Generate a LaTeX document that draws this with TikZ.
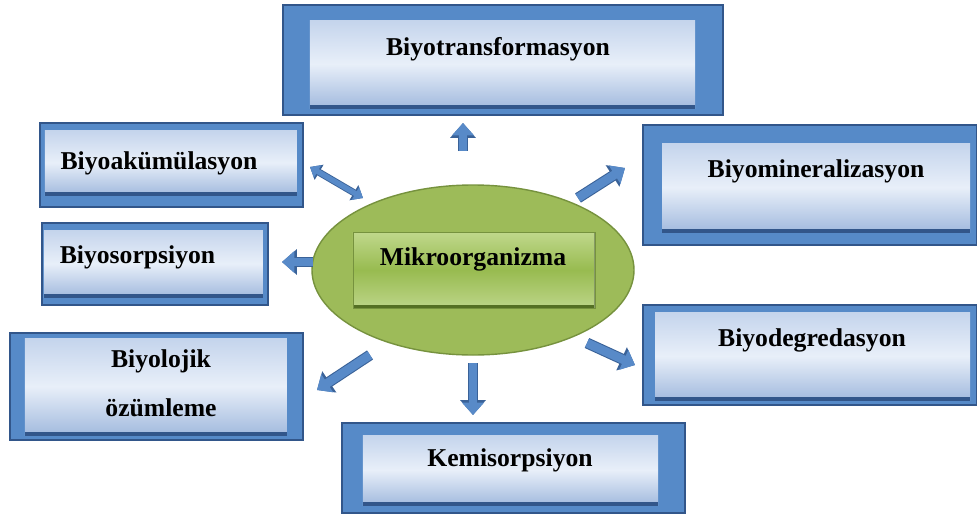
\documentclass[tikz,border=0pt]{standalone}
\usepackage{fontspec}
\setmainfont{Liberation Serif}
\usetikzlibrary{arrows.meta,shapes.geometric}
\definecolor{frameBlue}{RGB}{86,138,200}
\definecolor{frameDark}{RGB}{50,86,138}
\definecolor{panelTop}{RGB}{196,212,236}
\definecolor{panelMid}{RGB}{232,239,249}
\definecolor{panelBot}{RGB}{162,186,222}
\definecolor{arrowBlue}{RGB}{88,138,200}
\definecolor{arrowEdge}{RGB}{58,98,152}
\definecolor{leafGreen}{RGB}{157,187,89}
\definecolor{leafEdge}{RGB}{118,146,62}
\definecolor{greenTop}{RGB}{192,216,140}
\definecolor{greenMid}{RGB}{152,187,80}
\definecolor{greenBot}{RGB}{188,213,136}
\definecolor{greenDark}{RGB}{84,112,36}
\tikzset{%
  >={Triangle[width=12pt,length=7pt]},
  % Specifications for style of boxes and arrows:
     frameBox/.style = {rectangle, draw=frameDark, line width=0.6pt,
                        fill=frameBlue, inner sep=0pt},
        panel/.style = {rectangle, inner sep=0pt, top color=panelTop,
                        bottom color=panelBot, middle color=panelMid,
                        path picture={\draw[frameDark, line width=3pt]
                          (path picture bounding box.south west) --
                          (path picture bounding box.south east);}},
     greenBox/.style = {rectangle, inner sep=0pt, draw=leafEdge,
                        top color=greenTop, bottom color=greenBot,
                        middle color=greenMid,
                        path picture={\draw[greenDark, line width=3pt]
                          (path picture bounding box.south west) --
                          (path picture bounding box.south east);
                          \draw[greenDark!70, line width=1.6pt]
                          (path picture bounding box.south east) --
                          (path picture bounding box.north east);}},
      boxText/.style = {font=\bfseries\fontsize{14.6}{27.9}\selectfont,
                        inner sep=0pt, align=center},
   blockArrow/.style = {line width=5pt, draw=arrowBlue, ->,
                        preaction={draw=arrowEdge, line width=6.2pt,
                          -{Triangle[width=14pt,length=8.4pt]}}},
  thinArrow/.style = {line width=3pt, draw=arrowBlue,
                        {Triangle[width=8pt,length=5pt]}-{Triangle[width=8pt,length=5pt]},
                        preaction={draw=arrowEdge, line width=4pt,
                          {Triangle[width=9.6pt,length=6pt]}-{Triangle[width=9.6pt,length=6pt]}}},
}
\begin{document}
\begin{tikzpicture}
  \useasboundingbox (-9.46,-4.90) rectangle (10.08,5.40);
  % Center: ellipse with the green box
    \node (mikro)    [ellipse, fill=leafGreen, draw=leafEdge, line width=0.8pt,
                      minimum width=6.44cm, minimum height=3.4cm, inner sep=0pt] at (0,0) {};
    \node (mikroBox) [greenBox, minimum width=4.84cm, minimum height=1.52cm] at (0.02,0) {};
    \node (mikroTxt) [boxText] at (0,0.21) {Mikroorganizma};
  % Boxes round the center
    \node (bioTrans)    [frameBox, minimum width=8.8cm, minimum height=2.2cm] at (0.60,4.20) {};
    \node (bioTransIn)  [panel, minimum width=7.7cm, minimum height=1.76cm] at (0.59,4.12) {};
    \node (bioTransTxt) [boxText] at (0.50,4.42) {Biyotransformasyon};
    \node (bioAcc)      [frameBox, minimum width=5.26cm, minimum height=1.68cm] at (-6.03,2.10) {};
    \node (bioAccIn)    [panel, minimum width=5.04cm, minimum height=1.30cm] at (-6.04,2.15) {};
    \node (bioAccTxt)   [boxText] at (-6.28,2.13) {Biyoakümülasyon};
    \node (bioSorp)     [frameBox, minimum width=4.52cm, minimum height=1.64cm] at (-6.36,0.12) {};
    \node (bioSorpIn)   [panel, minimum width=4.38cm, minimum height=1.34cm] at (-6.39,0.13) {};
    \node (bioSorpTxt)  [boxText] at (-6.71,0.25) {Biyosorpsiyon};
    \node (bioAssim)    [frameBox, minimum width=5.86cm, minimum height=2.14cm] at (-6.33,-2.33) {};
    \node (bioAssimIn)  [panel, minimum width=5.24cm, minimum height=1.94cm] at (-6.34,-2.33) {};
    \node (bioAssimTxt) [boxText] at (-6.24,-2.27) {Biyolojik\\özümleme};
    \node (bioMin)      [frameBox, minimum width=6.68cm, minimum height=2.4cm] at (6.74,1.70) {};
    \node (bioMinIn)    [panel, minimum width=6.16cm, minimum height=1.78cm] at (6.86,1.65) {};
    \node (bioMinTxt)   [boxText] at (6.86,1.98) {Biyomineralizasyon};
    \node (bioDeg)      [frameBox, minimum width=6.68cm, minimum height=2.0cm] at (6.74,-1.70) {};
    \node (bioDegIn)    [panel, minimum width=6.3cm, minimum height=1.76cm] at (6.79,-1.72) {};
    \node (bioDegTxt)   [boxText] at (6.78,-1.40) {Biyodegredasyon};
    \node (chemSorp)    [frameBox, minimum width=6.86cm, minimum height=1.8cm] at (0.81,-3.96) {};
    \node (chemSorpIn)  [panel, minimum width=5.9cm, minimum height=1.4cm] at (0.75,-4.00) {};
    \node (chemSorpTxt) [boxText] at (0.74,-3.80) {Kemisorpsiyon};
  % End points of the block arrows
    \coordinate (upFrom)    at (-0.20,2.38);   \coordinate (upTo)    at (-0.20,2.94);
    \coordinate (accFrom)   at (-2.20,1.44);   \coordinate (accTo)   at (-3.26,2.06);
    \coordinate (sorpFrom)  at (-3.20,0.16);   \coordinate (sorpTo)  at (-3.82,0.16);
    \coordinate (assimFrom) at (-2.06,-1.70);  \coordinate (assimTo) at (-3.12,-2.40);
    \coordinate (downFrom)  at (0,-1.86);      \coordinate (downTo)  at (0,-2.90);
    \coordinate (minFrom)   at (2.10,1.44);    \coordinate (minTo)   at (3.04,2.04);
    \coordinate (degFrom)   at (2.28,-1.46);   \coordinate (degTo)   at (3.24,-1.90);
    \draw[blockArrow] (upFrom) -- (upTo);
    \draw[thinArrow]  (accFrom) -- (accTo);
    \draw[blockArrow] (sorpFrom) -- (sorpTo);
    \draw[blockArrow] (assimFrom) -- (assimTo);
    \draw[blockArrow] (downFrom) -- (downTo);
    \draw[blockArrow] (minFrom) -- (minTo);
    \draw[blockArrow] (degFrom) -- (degTo);
\end{tikzpicture}
\end{document}
